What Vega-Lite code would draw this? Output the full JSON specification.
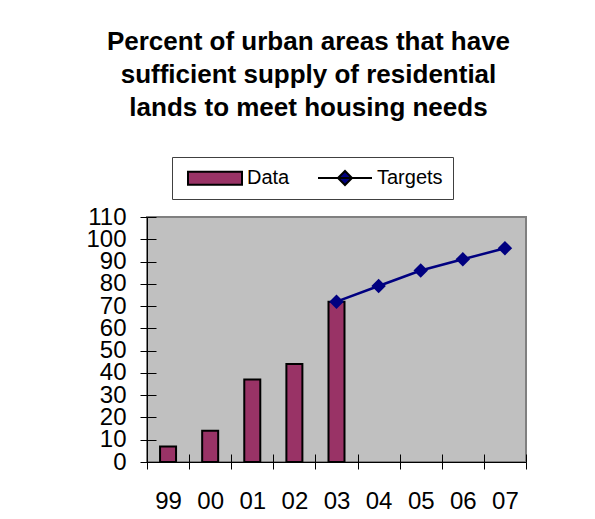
{
  "$schema": "https://vega.github.io/schema/vega-lite/v6.json",
  "width": 379,
  "height": 245,
  "autosize": {"type": "none"},
  "padding": {"left": 147, "top": 217, "right": 69, "bottom": 57},
  "background": "white",
  "title": {
    "text": ["Percent of urban areas that have", "sufficient supply of residential", "lands to meet housing needs"],
    "font": "Liberation Sans",
    "fontSize": 26,
    "fontWeight": "bold",
    "lineHeight": 33,
    "color": "black",
    "anchor": "middle",
    "frame": "group",
    "dx": -28,
    "offset": 36
  },
  "data": {
    "values": [
      {"year": "99", "Data": 7, "Targets": null},
      {"year": "00", "Data": 14, "Targets": null},
      {"year": "01", "Data": 37, "Targets": null},
      {"year": "02", "Data": 44, "Targets": null},
      {"year": "03", "Data": 72, "Targets": 72},
      {"year": "04", "Data": null, "Targets": 79},
      {"year": "05", "Data": null, "Targets": 86},
      {"year": "06", "Data": null, "Targets": 91},
      {"year": "07", "Data": null, "Targets": 96}
    ]
  },
  "transform": [
    {"fold": ["Data", "Targets"], "as": ["series", "value"]},
    {"filter": "datum.value != null"}
  ],
  "resolve": {"axis": {"x": "independent", "y": "independent"}},
  "layer": [
    {
      "mark": {"type": "point", "filled": true, "size": 0},
      "encoding": {
        "x": {"field": "year", "type": "ordinal", "axis": null},
        "y": {"field": "value", "type": "quantitative", "axis": null},
        "color": {
          "field": "series",
          "type": "nominal",
          "legend": {
            "title": null, "orient": "none", "legendX": 25, "legendY": -60, "direction": "horizontal",
            "strokeColor": "#404040", "fillColor": "white", "padding": 10, "columnPadding": 22,
            "labelFont": "Liberation Sans", "labelFontSize": 20, "labelColor": "black", "labelOffset": 43,
            "symbolSize": 400, "symbolStrokeColor": "#000080", "symbolStrokeWidth": 2, "symbolOpacity": 1
          }
        },
        "shape": {
          "field": "series",
          "type": "nominal",
          "scale": {
            "domain": ["Data", "Targets"],
            "range": ["M-0.5,-0.65H4.9V0.65H-0.5Z", "M-0.5,0H4.9M1.5,0L2.2,-0.7L2.9,0L2.2,0.7Z"]
          },
          "legend": {
            "title": null, "orient": "none", "legendX": 25, "legendY": -60, "direction": "horizontal",
            "strokeColor": "#404040", "fillColor": "white", "padding": 10, "columnPadding": 22,
            "labelFont": "Liberation Sans", "labelFontSize": 20, "labelColor": "black", "labelOffset": 43,
            "symbolSize": 400, "symbolStrokeColor": "#000080", "symbolStrokeWidth": 2, "symbolOpacity": 1
          }
        }
      }
    },
    {
      "transform": [{"filter": "datum.series === 'Data'"}],
      "mark": {"type": "bar", "width": {"band": 0.38}, "stroke": "black", "strokeWidth": 2},
      "encoding": {
        "x": {
          "field": "year",
          "type": "ordinal",
          "scale": {"type": "band", "domain": ["99", "00", "01", "02", "03", "04", "05", "06", "07"], "paddingInner": 0, "paddingOuter": 0},
          "axis": {
            "orient": "bottom",
            "title": null,
            "labelAngle": 0,
            "labelFont": "Liberation Sans",
            "labelFontSize": 24,
            "labelColor": "black",
            "labelPadding": 20,
            "tickBand": "extent",
            "tickSize": 7,
            "tickColor": "black",
            "tickWidth": 1,
            "domainColor": "black",
            "domainWidth": 1,
            "grid": false
          }
        },
        "y": {
          "field": "value",
          "type": "quantitative",
          "scale": {"domain": [0, 110], "nice": false},
          "axis": {
            "orient": "left",
            "title": null,
            "values": [0, 10, 20, 30, 40, 50, 60, 70, 80, 90, 100, 110],
            "labelFont": "Liberation Sans",
            "labelFontSize": 24,
            "labelColor": "black",
            "labelPadding": 14,
            "labelOverlap": false,
            "labelFlush": false,
            "labelBound": false,
            "tickSize": 7,
            "tickColor": "black",
            "domainColor": "black",
            "grid": false
          }
        },
        "color": {
          "field": "series",
          "type": "nominal",
          "scale": {"domain": ["Data", "Targets"], "range": ["#993366", "#000080"]}
        }
      }
    },
    {
      "transform": [{"filter": "datum.series === 'Targets'"}],
      "mark": {"type": "line", "color": "#000080", "strokeWidth": 2.5},
      "encoding": {
        "x": {
          "field": "year",
          "type": "ordinal",
          "axis": {
            "orient": "bottom",
            "offset": -8,
            "title": null,
            "labels": false,
            "domain": false,
            "tickBand": "extent",
            "tickSize": 8,
            "tickColor": "black",
            "tickWidth": 1,
            "grid": false
          }
        },
        "y": {
          "field": "value",
          "type": "quantitative",
          "axis": {
            "orient": "left",
            "offset": -9,
            "title": null,
            "labels": false,
            "domain": false,
            "values": [0, 10, 20, 30, 40, 50, 60, 70, 80, 90, 100, 110],
            "tickSize": 9,
            "tickColor": "black",
            "grid": false
          }
        }
      }
    },
    {
      "transform": [{"filter": "datum.series === 'Targets'"}],
      "mark": {"type": "point", "shape": "diamond", "filled": true, "size": 210, "opacity": 1},
      "encoding": {
        "x": {"field": "year", "type": "ordinal", "axis": null},
        "y": {"field": "value", "type": "quantitative", "axis": null},
        "color": {"field": "series", "type": "nominal"}
      }
    }
  ],
  "config": {
    "view": {"fill": "#c0c0c0", "stroke": "#808080", "strokeWidth": 2}
  }
}
